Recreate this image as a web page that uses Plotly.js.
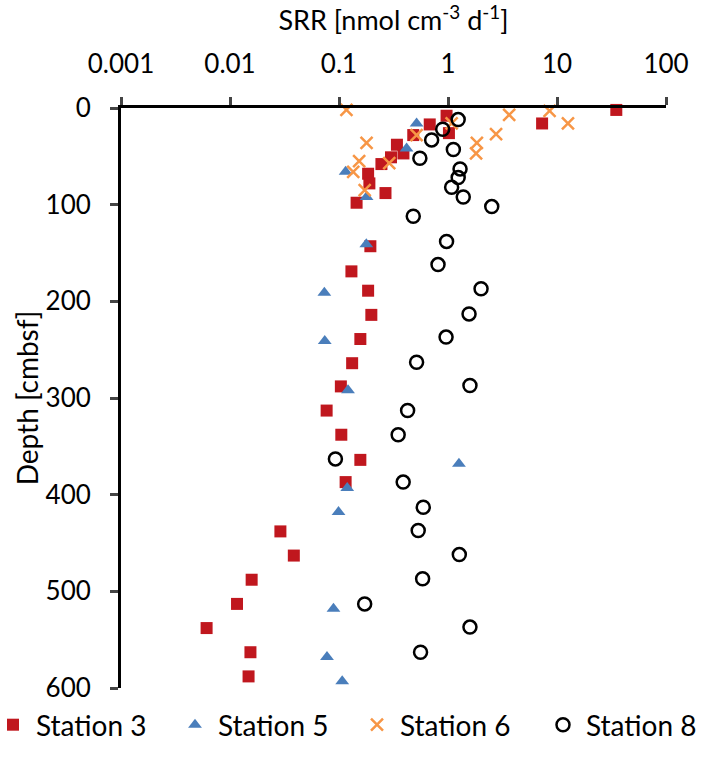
<!DOCTYPE html>
<html>
<head>
<meta charset="utf-8">
<script src="https://cdn.plot.ly/plotly-3.0.1.min.js"></script>
<style>
  body { margin: 0; background: #fff; }
  #srrDepth { width: 708px; height: 758px; }
</style>
</head>
<body>
<div id="srrDepth"></div>
<script>
// station 3
const st3Depth = [2, 16, 8, 26, 17, 28, 38, 47, 51, 58, 68, 78, 88, 98, 143, 169, 189, 214, 239, 264, 288, 313, 338, 364, 387, 438, 463, 488, 513, 538, 563, 588];
const st3Srr = [35, 7.3, 0.97, 1.02, 0.68, 0.48, 0.34, 0.39, 0.30, 0.245, 0.185, 0.19, 0.267, 0.145, 0.194, 0.13, 0.185, 0.198, 0.157, 0.132, 0.104, 0.077, 0.105, 0.157, 0.115, 0.029, 0.0385, 0.0158, 0.0116, 0.0061, 0.0154, 0.0148];

// station 5
const st5Depth = [16, 42, 66, 92, 141, 191, 241, 292, 368, 393, 418, 518, 568, 593];
const st5Srr = [0.515, 0.417, 0.115, 0.179, 0.178, 0.0734, 0.074, 0.121, 1.26, 0.119, 0.099, 0.089, 0.0776, 0.107];

// station 6
const st6Depth = [2, 7, 3, 16, 16, 27, 28, 36, 36, 47, 57, 55, 66, 85];
const st6Srr = [0.117, 3.64, 8.55, 12.6, 1.08, 2.76, 0.515, 0.179, 1.84, 1.81, 0.289, 0.153, 0.135, 0.172];

// station 8
const st8Depth = [12, 22, 33, 43, 52, 63, 72, 82, 92, 102, 112, 138, 162, 187, 213, 237, 263, 287, 313, 338, 363, 387, 413, 437, 462, 487, 513, 537, 563];
const st8Srr = [1.24, 0.894, 0.708, 1.12, 0.552, 1.29, 1.24, 1.08, 1.38, 2.52, 0.48, 0.97, 0.81, 2.01, 1.56, 0.96, 0.515, 1.59, 0.426, 0.349, 0.0927, 0.388, 0.593, 0.533, 1.27, 0.585, 0.172, 1.59, 0.56];

const xTicks = [0.001, 0.01, 0.1, 1, 10, 100];
const xTickText = ["0.001", "0.01", "0.1", "1", "10", "100"];

function plotSrrDepth() {
  const fontFam = "Lato, 'Open Sans', sans-serif";

  const traces = [
    {
      x: st3Srr, y: st3Depth, name: "Station 3", legend: "legend",
      type: "scatter", mode: "markers", cliponaxis: false,
      marker: { symbol: "square", size: 12, color: "#C0171E" },
    },
    {
      x: st5Srr, y: st5Depth, name: "Station 5", legend: "legend2",
      type: "scatter", mode: "markers", cliponaxis: false,
      marker: { symbol: "triangle-up", size: 12, color: "#4A7EBB" },
    },
    {
      x: st6Srr, y: st6Depth, name: "Station 6", legend: "legend3",
      type: "scatter", mode: "markers", cliponaxis: false,
      marker: { symbol: "x-thin", size: 12, color: "#F79646", line: { width: 2.5, color: "#F79646" } },
    },
    {
      x: st8Srr, y: st8Depth, name: "Station 8", legend: "legend4",
      type: "scatter", mode: "markers", cliponaxis: false,
      marker: { symbol: "circle-open", size: 13, color: "#000000", line: { width: 2.5 } },
    },
  ];

  // one legend per station so each entry can sit where the original has it
  // px = left edge in page pixels, plot area starts at 121 and is 545 wide
  const legendBase = (px) => ({
    xref: "paper", yref: "container",
    x: (px - 121) / 545, xanchor: "left",
    y: 1 - 725 / 758, yanchor: "middle",
    font: { size: 28 },
    itemwidth: 36,
    borderwidth: 0,
    bgcolor: "rgba(0,0,0,0)",
  });

  const layout = {
    width: 708,
    height: 758,
    paper_bgcolor: "#ffffff",
    plot_bgcolor: "#ffffff",
    font: { family: fontFam, size: 26, color: "#000" },
    margin: { l: 121, r: 42, t: 108, b: 70, autoexpand: false },
    showlegend: true,
    legend: legendBase(-10),
    legend2: legendBase(172),
    legend3: legendBase(354),
    legend4: legendBase(540),
    xaxis: {
      type: "log",
      side: "top",
      range: [-3, 2],
      tickvals: xTicks,
      ticktext: xTickText,
      ticks: "outside",
      ticklen: 8,
      tickwidth: 3,
      ticklabelstandoff: 14,
      showline: true,
      linewidth: 3,
      linecolor: "#000",
      showgrid: false,
      zeroline: false,
      title: { text: "SRR [nmol cm<sup>-3</sup> d<sup>-1</sup>]", standoff: 10, font: { size: 27 } },
    },
    yaxis: {
      range: [600, 0],
      dtick: 100,
      ticks: "outside",
      ticklen: 8,
      tickwidth: 3,
      ticklabelstandoff: 14,
      showline: true,
      linewidth: 3,
      linecolor: "#000",
      showgrid: false,
      zeroline: false,
      title: { text: "Depth [cmbsf]", font: { size: 28 } },
    },
  };

  Plotly.newPlot("srrDepth", traces, layout, { displayModeBar: false });
}

plotSrrDepth();
</script>
</body>
</html>
